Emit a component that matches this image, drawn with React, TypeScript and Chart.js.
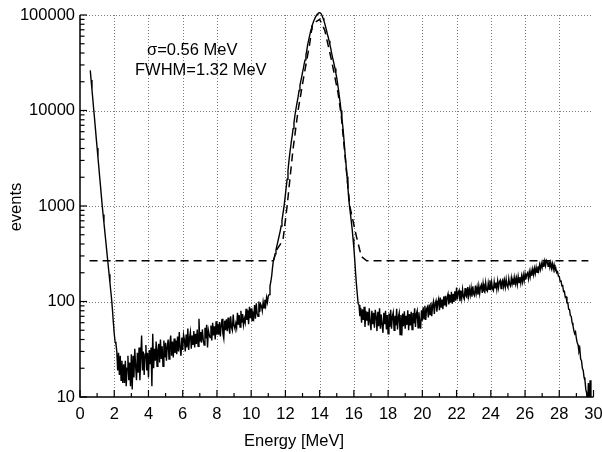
import React, { useEffect, useRef } from "react";
import { Chart, registerables } from "chart.js";

Chart.register(...registerables);

// ---- histogram (bin width 0.05 MeV) ----
const BIN = 0.05;

const lowTailStart = 0.6; // 0.60 .. 2.05
const lowTail = [
  26300, 20800, 16500, 13100, 10300, 8200, 6500, 5100, 4060, 3200,
  2550, 2010, 1600, 1260, 1000, 815, 663, 540, 440, 358,
  291, 237, 193, 157, 128, 104, 80, 60, 46, 38,
];

const bgLowStart = 2.1; // 2.10 .. 10.55
const bgLow = [
  36, 30, 19, 29, 17, 27, 15, 24, 14, 22,
  14, 24, 13, 20, 27, 15, 23, 13, 28, 12,
  27, 16, 32, 21, 15, 29, 18, 33, 15, 26,
  44, 19, 30, 17, 28, 35, 19, 29, 16, 31,
  22, 33, 13, 46, 20, 32, 24, 38, 21, 31,
  36, 23, 40, 25, 34, 21, 39, 26, 37, 24,
  34, 40, 25, 37, 44, 27, 38, 26, 41, 29,
  39, 28, 43, 30, 48, 32, 27, 42, 31, 45,
  40, 30, 45, 33, 52, 31, 42, 48, 32, 44,
  35, 49, 33, 46, 36, 51, 34, 66, 38, 48,
  37, 51, 40, 35, 53, 41, 57, 33, 50, 45,
  42, 56, 39, 60, 44, 55, 40, 62, 45, 58,
  45, 61, 43, 57, 66, 46, 41, 63, 50, 65,
  49, 68, 53, 46, 70, 54, 50, 73, 56, 52,
  59, 53, 76, 57, 72, 54, 80, 60, 74, 57,
  66, 60, 84, 64, 81, 58, 88, 67, 85, 63,
  75, 68, 92, 66, 96, 75, 70, 100, 78, 94,
];

const peakStart = 10.6; // 10.60 .. 16.25
const peak = [
  90, 80, 99, 86, 104, 91, 110, 98, 114, 118,
  145, 162, 186, 229, 269, 288, 316, 347, 380, 417,
  457, 501, 550, 617, 708, 813, 933, 1096, 1318, 1585,
  1905, 2344, 2884, 3467, 4074, 4786, 5495, 6457, 7413, 8710,
  10000, 11220, 12590, 14130, 16220, 18200, 20420, 22390, 25120, 27540,
  30900, 33880, 38020, 42660, 48980, 53700, 58880, 64570, 70790, 75860,
  81280, 86100, 90200, 94400, 97700, 101200, 103500, 105200, 105700, 104700,
  102300, 97700, 92300, 87100, 81300, 75000, 69200, 63100, 58900, 53700,
  49000, 44700, 39800, 36300, 33100, 30200, 27500, 24500, 21900, 19100,
  16600, 14100, 12000, 10000, 8300, 6900, 5500, 4270, 3310, 2630,
  2040, 1580, 1200, 980, 830, 690, 575, 457, 363, 275,
  200, 151, 120, 95,
];

const bgHighStart = 16.3; // 16.30 .. 27.75
const bgHigh = [
  92, 70, 86, 60, 83, 64, 88, 54, 80, 63,
  78, 56, 85, 61, 50, 80, 58, 76, 53, 82,
  70, 49, 78, 55, 85, 52, 73, 57, 47, 76,
  58, 80, 51, 72, 46, 75, 54, 82, 52, 70,
  77, 50, 71, 56, 84, 51, 69, 76, 45, 72,
  44, 75, 55, 79, 52, 71, 57, 81, 50, 74,
  56, 78, 51, 76, 59, 85, 54, 74, 80, 53,
  77, 60, 52, 81, 63, 87, 66, 90, 64, 84,
  88, 68, 93, 73, 97, 70, 91, 100, 74, 95,
  102, 78, 97, 106, 81, 110, 86, 105, 83, 113,
  91, 115, 88, 111, 120, 93, 117, 97, 126, 95,
  120, 99, 128, 102, 140, 105, 124, 131, 101, 129,
  108, 134, 112, 106, 138, 115, 111, 142, 114, 135,
  117, 139, 112, 144, 120, 115, 147, 122, 141, 118,
  145, 121, 142, 150, 123, 154, 129, 125, 157, 132,
  128, 156, 134, 167, 131, 159, 136, 130, 161, 139,
  158, 134, 164, 139, 160, 167, 137, 162, 169, 143,
  166, 142, 171, 147, 140, 174, 151, 145, 177, 153,
  172, 149, 179, 154, 176, 151, 183, 158, 180, 156,
  185, 161, 190, 165, 195, 170, 192, 200, 173, 204,
  180, 210, 186, 217, 191, 222, 197, 228, 202, 233,
  210, 242, 217, 250, 226, 257, 231, 265, 237, 270,
  260, 234, 266, 229, 255, 223, 249, 217, 242, 212,
];

const edgeStart = 27.8; // 27.80 .. 29.85
const edge = [
  222, 200, 205, 184, 183, 163, 166, 146, 147, 127,
  128, 111, 112, 97, 97, 83, 82, 71, 70, 60,
  56, 50, 46, 48, 41, 37, 35, 30, 32, 25,
  24, 20, 19, 16, 15, 12, 11, 8, 14, 9,
  15, 6,
];

// ---- gaussian + constant fit (dashed) ----
const fitEnergy = [0.56, 11.3, 11.5, 11.86, 12.1, 12.44, 12.74, 13.07, 13.42, 13.58, 14.0, 14.3, 14.69, 15.08, 15.27, 15.45, 15.76, 16.15, 16.44, 16.75, 29.7];
const fitCounts = [267, 267, 350, 440, 1000, 3860, 10000, 22400, 50100, 80500, 90200, 69200, 33900, 15100, 8600, 3890, 1000, 479, 295, 267, 267];

// ---- axes ----
const xTickValues = [0, 2, 4, 6, 8, 10, 12, 14, 16, 18, 20, 22, 24, 26, 28, 30];
const xMinorValues = [1, 3, 5, 7, 9, 11, 13, 15, 17, 19, 21, 23, 25, 27, 29];
const yTickValues = [10, 100, 1000, 10000, 100000];
const yMinorFactors = [2, 3, 4, 5, 6, 7, 8, 9];

const FONT = "'Liberation Sans', Arial, Helvetica, sans-serif";

function buildSeries() {
  const segs: [number, number[]][] = [
    [lowTailStart, lowTail],
    [bgLowStart, bgLow],
    [peakStart, peak],
    [bgHighStart, bgHigh],
    [edgeStart, edge],
  ];
  const out: { x: number; y: number }[] = [];
  for (const [start, vals] of segs) {
    vals.forEach((v, i) => out.push({ x: +(start + i * BIN).toFixed(3), y: v }));
  }
  return out;
}

const framePlugin = {
  id: "frame",
  beforeDatasetsDraw(chart: any) {
    const { ctx, chartArea: a, scales } = chart;
    const x = scales.x, y = scales.y;
    ctx.save();
    ctx.strokeStyle = "#7a7a7a";
    ctx.lineWidth = 1;
    ctx.setLineDash([1, 2]);
    for (const t of xTickValues) {
      if (t === 0 || t === 30) continue;
      const px = Math.round(x.getPixelForValue(t)) + 0.5;
      ctx.beginPath();
      ctx.moveTo(px, a.top);
      ctx.lineTo(px, a.bottom);
      ctx.stroke();
    }
    for (const t of yTickValues) {
      if (t === 10) continue;
      const py = Math.round(y.getPixelForValue(t)) + 0.5;
      ctx.beginPath();
      ctx.moveTo(a.left, py);
      ctx.lineTo(a.right - 1, py);
      ctx.stroke();
    }
    ctx.restore();
  },
  afterDatasetsDraw(chart: any) {
    const { ctx, chartArea: a, scales } = chart;
    const x = scales.x, y = scales.y;
    ctx.save();
    ctx.setLineDash([]);
    ctx.strokeStyle = "#000";
    ctx.lineWidth = 1.5;
    const left = x.getPixelForValue(0);
    const bottom = y.getPixelForValue(10);
    ctx.beginPath();
    ctx.moveTo(left, a.top);
    ctx.lineTo(left, bottom);
    ctx.lineTo(x.getPixelForValue(30), bottom);
    ctx.stroke();
    ctx.lineWidth = 1.2;
    for (const t of xTickValues) {
      const px = x.getPixelForValue(t);
      ctx.beginPath();
      ctx.moveTo(px, bottom);
      ctx.lineTo(px, bottom - 7);
      ctx.stroke();
    }
    for (const t of xMinorValues) {
      const px = x.getPixelForValue(t);
      ctx.beginPath();
      ctx.moveTo(px, bottom);
      ctx.lineTo(px, bottom - 4);
      ctx.stroke();
    }
    for (const t of yTickValues) {
      const py = y.getPixelForValue(t);
      ctx.beginPath();
      ctx.moveTo(left, py);
      ctx.lineTo(left + 7, py);
      ctx.stroke();
      if (t < 100000) {
        for (const m of yMinorFactors) {
          const pm = y.getPixelForValue(t * m);
          ctx.beginPath();
          ctx.moveTo(left, pm);
          ctx.lineTo(left + 4.5, pm);
          ctx.stroke();
        }
      }
    }
    // texts
    ctx.fillStyle = "#000";
    ctx.font = `16.5px ${FONT}`;
    ctx.textBaseline = "alphabetic";
    ctx.textAlign = "left";
    ctx.fillText("\u03c3=0.56 MeV", 147, 55);
    ctx.fillText("FWHM=1.32 MeV", 135, 75);
    ctx.textAlign = "center";
    ctx.fillText("Energy [MeV]", 294, 445.5);
    ctx.save();
    ctx.translate(21, 207);
    ctx.rotate(-Math.PI / 2);
    ctx.fillText("events", 0, 0);
    ctx.restore();
    ctx.restore();
  },
};

export default function App() {
  const ref = useRef<HTMLCanvasElement | null>(null);
  useEffect(() => {
    if (!ref.current) return;
    const series = buildSeries();
    const fit = fitEnergy.map((e, i) => ({ x: e, y: fitCounts[i] }));
    const chart = new Chart(ref.current, {
      type: "line",
      data: {
        datasets: [
          {
            data: fit,
            borderColor: "#000",
            borderWidth: 1.5,
            borderDash: [8, 5],
            pointRadius: 0,
            tension: 0,
            fill: false,
            clip: { left: 0, top: 8, right: 2, bottom: 0 } as any,
          },
          {
            data: series,
            borderColor: "#000",
            borderWidth: 1.4,
            pointRadius: 0,
            tension: 0,
            fill: false,
            clip: { left: 0, top: 8, right: 2, bottom: 0 } as any,
          },
        ],
      },
      options: {
        responsive: false,
        animation: false,
        events: [],
        layout: { padding: { left: 0, top: 15, right: 0, bottom: 0 } },
        plugins: { legend: { display: false }, tooltip: { enabled: false } },
        scales: {
          x: {
            type: "linear",
            min: 0,
            max: 30,
            grid: { display: false, drawTicks: false },
            border: { display: false },
            afterBuildTicks: (s: any) => {
              s.ticks = xTickValues.map((v) => ({ value: v }));
            },
            afterFit: (s: any) => {
              s.height = 55;
              s.paddingLeft = 0;
              s.paddingRight = 8.5;
            },
            ticks: {
              padding: 8,
              color: "#000",
              font: { family: FONT, size: 16.5 },
              maxRotation: 0,
              autoSkip: false,
              callback: (v: any) => String(v),
            },
          },
          y: {
            type: "logarithmic",
            min: 10,
            max: 100000,
            grid: { display: false, drawTicks: false },
            border: { display: false },
            afterBuildTicks: (s: any) => {
              s.ticks = yTickValues.map((v) => ({ value: v }));
            },
            afterFit: (s: any) => {
              s.width = 80;
              s.paddingTop = 0;
              s.paddingBottom = 0;
            },
            ticks: {
              padding: 5,
              color: "#000",
              font: { family: FONT, size: 16.5 },
              autoSkip: false,
              callback: (v: any) => String(v),
            },
          },
        },
      },
      plugins: [framePlugin],
    });
    return () => chart.destroy();
  }, []);
  return (
    <div style={{ position: "absolute", left: 0, top: 0, width: 602, height: 452, background: "#fff" }}>
      <canvas ref={ref} width={602} height={452} style={{ width: 602, height: 452, display: "block" }} />
    </div>
  );
}
